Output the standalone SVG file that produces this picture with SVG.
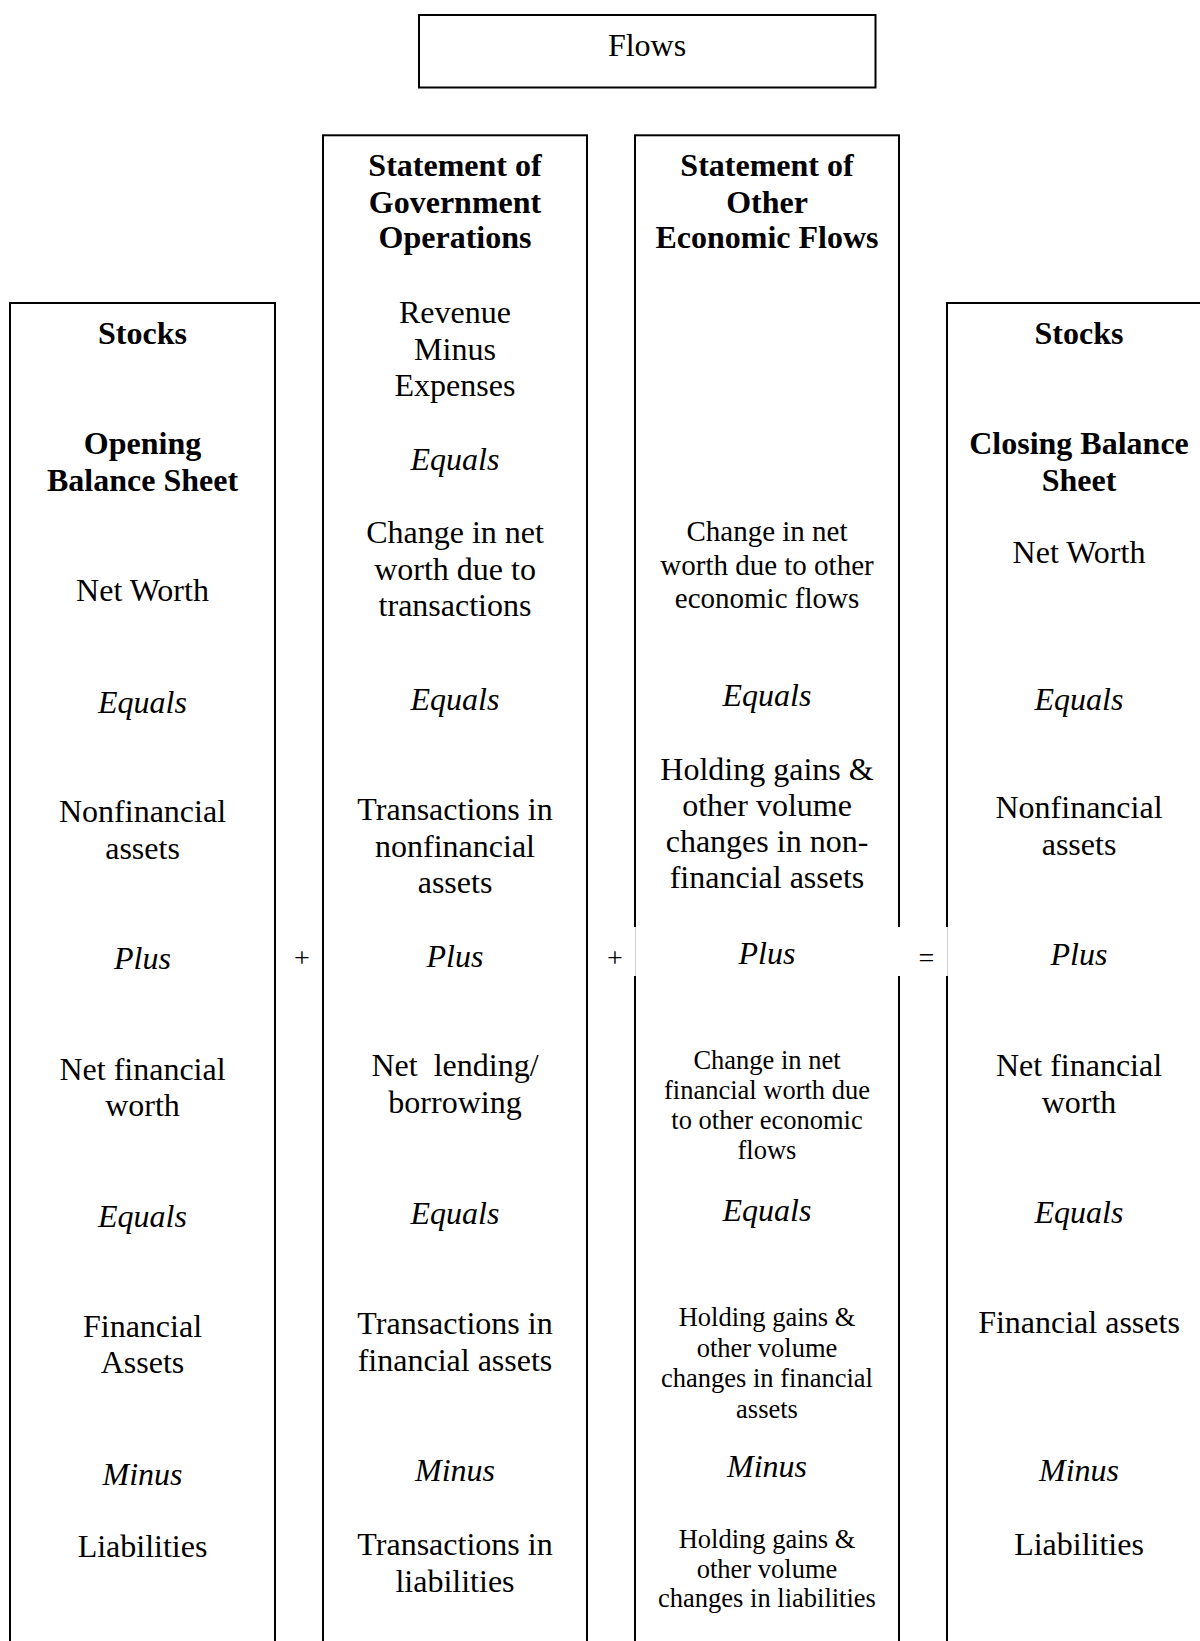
<svg xmlns="http://www.w3.org/2000/svg" width="1200" height="1641" viewBox="0 0 1200 1641">
<style>
.box{fill:#fff;stroke:#000;stroke-width:2}
text{font-family:"Liberation Serif","Times New Roman",serif;fill:#000;text-anchor:middle}
.t{font-size:32px}
.b{font-size:32px;font-weight:bold}
.i{font-size:32px;font-style:italic}
.m{font-size:29px}
.s{font-size:26.5px}
.op{font-size:28px}
</style>
<rect width="1200" height="1641" fill="#fff"/>

<g id="flows">
<rect class="box" x="419" y="15" width="456.5" height="72.5"/>
<text class="t" x="647" y="56">Flows</text>
</g>

<g id="opening-balance-sheet">
<rect class="box" x="10" y="303" width="265" height="1400"/>
<text class="b" x="142.5" y="344">Stocks</text>
<text class="b" x="142.5" y="454">Opening</text>
<text class="b" x="142.5" y="490.7">Balance Sheet</text>
<text class="t" x="142.5" y="600.7">Net Worth</text>
<text class="i" x="142.5" y="712.7">Equals</text>
<text class="t" x="142.5" y="822.4">Nonfinancial</text>
<text class="t" x="142.5" y="859">assets</text>
<text class="i" x="142.5" y="968.5">Plus</text>
<text class="t" x="142.5" y="1079.5">Net financial</text>
<text class="t" x="142.5" y="1116">worth</text>
<text class="i" x="142.5" y="1226.5">Equals</text>
<text class="t" x="142.5" y="1336.5">Financial</text>
<text class="t" x="142.5" y="1373">Assets</text>
<text class="i" x="142.5" y="1484.5">Minus</text>
<text class="t" x="142.5" y="1557">Liabilities</text>
</g>

<g id="statement-government-operations">
<rect class="box" x="323" y="135.3" width="264" height="1600"/>
<text class="b" x="455" y="176">Statement of</text>
<text class="b" x="455" y="212.7">Government</text>
<text class="b" x="455" y="248.3">Operations</text>
<text class="t" x="455" y="323.3">Revenue</text>
<text class="t" x="455" y="360">Minus</text>
<text class="t" x="455" y="396.3">Expenses</text>
<text class="i" x="455" y="470">Equals</text>
<text class="t" x="455" y="543.3">Change in net</text>
<text class="t" x="455" y="579.6">worth due to</text>
<text class="t" x="455" y="616">transactions</text>
<text class="i" x="455" y="709.5">Equals</text>
<text class="t" x="455" y="820.3">Transactions in</text>
<text class="t" x="455" y="856.8">nonfinancial</text>
<text class="t" x="455" y="893.4">assets</text>
<text class="i" x="455" y="967">Plus</text>
<text class="t" x="455" y="1076.3" xml:space="preserve">Net  lending/</text>
<text class="t" x="455" y="1112.9">borrowing</text>
<text class="i" x="455" y="1224">Equals</text>
<text class="t" x="455" y="1334.3">Transactions in</text>
<text class="t" x="455" y="1370.8">financial assets</text>
<text class="i" x="455" y="1481">Minus</text>
<text class="t" x="455" y="1555.2">Transactions in</text>
<text class="t" x="455" y="1591.5">liabilities</text>
</g>

<g id="statement-other-economic-flows">
<rect class="box" x="635" y="135.3" width="264" height="1600"/>
<text class="b" x="767" y="176">Statement of</text>
<text class="b" x="767" y="212.7">Other</text>
<text class="b" x="767" y="248.3">Economic Flows</text>
<text class="m" x="767" y="541">Change in net</text>
<text class="m" x="767" y="574.6">worth due to other</text>
<text class="m" x="767" y="608.2">economic flows</text>
<text class="i" x="767" y="706.3">Equals</text>
<text class="t" x="767" y="780.2">Holding gains &amp;</text>
<text class="t" x="767" y="816.3">other volume</text>
<text class="t" x="767" y="852.3">changes in non-</text>
<text class="t" x="767" y="888.4">financial assets</text>
<text class="i" x="767" y="963.5">Plus</text>
<text class="s" x="767" y="1069.3">Change in net</text>
<text class="s" x="767" y="1099.3">financial worth due</text>
<text class="s" x="767" y="1129.3">to other economic</text>
<text class="s" x="767" y="1159.3">flows</text>
<text class="i" x="767" y="1221">Equals</text>
<text class="s" x="767" y="1326">Holding gains &amp;</text>
<text class="s" x="767" y="1356.5">other volume</text>
<text class="s" x="767" y="1387">changes in financial</text>
<text class="s" x="767" y="1417.5">assets</text>
<text class="i" x="767" y="1476.7">Minus</text>
<text class="s" x="767" y="1548.3">Holding gains &amp;</text>
<text class="s" x="767" y="1578">other volume</text>
<text class="s" x="767" y="1607">changes in liabilities</text>
</g>

<g id="closing-balance-sheet">
<rect class="box" x="947" y="303" width="264" height="1400"/>
<text class="b" x="1079" y="344">Stocks</text>
<text class="b" x="1079" y="454">Closing Balance</text>
<text class="b" x="1079" y="490.7">Sheet</text>
<text class="t" x="1079" y="563.3">Net Worth</text>
<text class="i" x="1079" y="709.5">Equals</text>
<text class="t" x="1079" y="818.3">Nonfinancial</text>
<text class="t" x="1079" y="855">assets</text>
<text class="i" x="1079" y="965">Plus</text>
<text class="t" x="1079" y="1076">Net financial</text>
<text class="t" x="1079" y="1112.7">worth</text>
<text class="i" x="1079" y="1222.7">Equals</text>
<text class="t" x="1079" y="1333.3">Financial assets</text>
<text class="i" x="1079" y="1480.7">Minus</text>
<text class="t" x="1079" y="1555">Liabilities</text>
</g>

<g id="operators">
<rect x="596" y="927" width="40.5" height="49" fill="#fff"/>
<line x1="635.5" y1="927" x2="635.5" y2="976" stroke="#d4d4d4" stroke-width="1"/>
<rect x="897.5" y="927" width="51" height="49" fill="#fff"/>
<line x1="947.5" y1="927" x2="947.5" y2="976" stroke="#d4d4d4" stroke-width="1"/>
<text class="op" x="302" y="966.5">+</text>
<text class="op" x="615" y="966.5">+</text>
<text class="op" x="926.5" y="966.5">=</text>
</g>
</svg>
